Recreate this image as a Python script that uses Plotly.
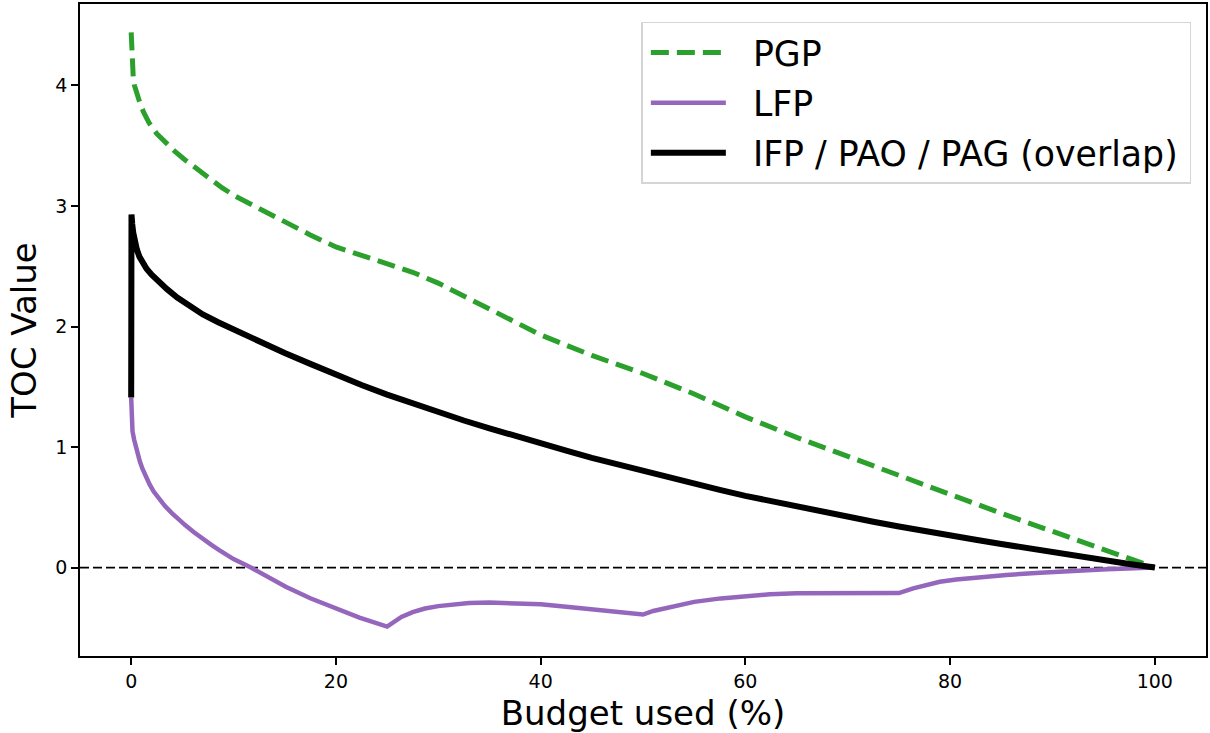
import plotly.graph_objects as go

# ---------------- data ----------------
pgp_x = [0, 0.02, 0.06, 0.12, 0.2, 0.32, 0.5, 0.8, 1.2, 1.75, 2.5, 3.4, 4.3, 5.3, 6.5, 7.6, 8.9,
         10.2, 12.5, 15, 17.5, 20, 22.5, 25, 27.5, 30, 35, 40, 45, 50, 55, 60, 65, 70,
         75, 80, 85, 90, 95, 100]
pgp_y = [4.44, 4.36, 4.25, 4.15, 4.07, 4.00, 3.94, 3.87, 3.78, 3.69, 3.60, 3.52, 3.45, 3.38, 3.30,
         3.23, 3.15, 3.08, 2.98, 2.86, 2.76, 2.66, 2.59, 2.53, 2.45, 2.36, 2.14, 1.93, 1.76, 1.61,
         1.44, 1.25, 1.08, 0.92, 0.76, 0.61, 0.45, 0.30, 0.15, 0.0]

lfp_x = [0, 0.02, 0.06, 0.13, 0.29, 0.45, 0.62, 0.85, 1.1, 1.4, 1.8, 2.2, 2.7, 3.3, 4.0, 4.6, 5.3,
         6.1, 7.0, 7.8, 8.6, 10, 11.7, 13.3, 15.1, 17.5, 19.9, 22.3, 25, 25.7, 26.4, 27.5, 28.7,
         30, 31.5, 33, 35, 37.5, 40, 42.5, 45, 47.5, 50, 51, 52.7, 55, 57.6, 60, 62.4, 65, 70, 75,
         76.4, 77.7, 79, 80.6, 82.3, 85.5, 88.8, 92, 95.3, 100]
lfp_y = [1.41, 1.28, 1.19, 1.13, 1.06, 1.00, 0.94, 0.88, 0.82, 0.76, 0.69, 0.63, 0.57, 0.51, 0.45,
         0.40, 0.35, 0.295, 0.235, 0.19, 0.145, 0.07, 0.0, -0.08, -0.16, -0.255, -0.34, -0.415,
         -0.49, -0.45, -0.41, -0.37, -0.34, -0.32, -0.305, -0.295, -0.29, -0.293, -0.305, -0.325,
         -0.345, -0.365, -0.39, -0.36, -0.325, -0.285, -0.256, -0.235, -0.222, -0.214, -0.212, -0.212,
         -0.173, -0.143, -0.118, -0.1, -0.085, -0.062, -0.043, -0.027, -0.015, 0.0]

ifp_x = [0, 0.03, 0.1, 0.2, 0.35, 0.55, 0.8, 1.1, 1.5, 2.0, 2.7, 3.5, 4.5, 5.5, 7, 8.5, 10,
         12.5, 15, 17.5, 20, 22.5, 25, 27.5, 30, 32.5, 35, 37.5, 40, 42.5, 45, 47.5, 50, 52.5,
         55, 57.5, 60, 62.5, 65, 67.5, 70, 72.5, 75, 77.5, 80, 82.5, 85, 87.5, 90, 92.5, 95,
         97.5, 100]
ifp_y = [1.41, 2.93, 2.85, 2.78, 2.71, 2.64, 2.58, 2.53, 2.48, 2.43, 2.37, 2.31, 2.24, 2.18, 2.10,
         2.035, 1.975, 1.875, 1.78, 1.69, 1.60, 1.515, 1.435, 1.36, 1.29, 1.22, 1.155, 1.09, 1.03,
         0.97, 0.91, 0.855, 0.80, 0.745, 0.695, 0.645, 0.595, 0.55, 0.505, 0.46, 0.42, 0.38, 0.34,
         0.30, 0.265, 0.23, 0.195, 0.16, 0.13, 0.095, 0.065, 0.03, 0.0]

names = ["PGP", "LFP", "IFP / PAO / PAG (overlap)"]
x_ticks = [0, 20, 40, 60, 80, 100]
y_ticks = [0, 1, 2, 3, 4]

FONT = "DejaVu Sans"
PAD_L = "\u00a0\u00a0"  # gap between legend sample and label, as in the reference
PAD_R = "\u2009"        # a little room before the legend's right border

fig = go.Figure()
fig.add_trace(go.Scatter(x=pgp_x, y=pgp_y, mode="lines", name=PAD_L + names[0] + PAD_R,
                         legendgroup="a",
                         line=dict(color="#2ca02c", width=5, dash="18px,8px")))
fig.add_trace(go.Scatter(x=lfp_x, y=lfp_y, mode="lines", name=PAD_L + names[1] + PAD_R,
                         legendgroup="b",
                         line=dict(color="#9467bd", width=4.5)))
fig.add_trace(go.Scatter(x=ifp_x, y=ifp_y, mode="lines", name=PAD_L + names[2] + PAD_R,
                         legendgroup="c",
                         line=dict(color="#000000", width=6)))

fig.add_shape(type="line", xref="paper", x0=0, x1=1, yref="y", y0=0, y1=0,
              line=dict(color="black", width=1.8, dash="9px,4px"), layer="below")

axis_common = dict(showline=True, mirror=True, linecolor="black", linewidth=1.8,
                   ticks="outside", ticklen=7, tickwidth=1.6, tickcolor="black",
                   showgrid=False, zeroline=False,
                   tickfont=dict(family=FONT, size=19, color="black"))

fig.update_layout(
    width=1210, height=733,
    margin=dict(l=80, r=2, t=4, b=77),
    plot_bgcolor="white", paper_bgcolor="white",
    xaxis=dict(range=[-5, 105], tickvals=x_ticks,
               title=dict(text="Budget used (%)", font=dict(family=FONT, size=34, color="black"),
                          standoff=10),
               **axis_common),
    yaxis=dict(range=[-0.734, 4.676], tickvals=y_ticks,
               title=dict(text="TOC Value", font=dict(family=FONT, size=34, color="black"),
                          standoff=8),
               **axis_common),
    legend=dict(x=0.987, y=0.9724, xanchor="right", yanchor="top",
                font=dict(family=FONT, size=34.7, color="black"),
                bgcolor="rgba(255,255,255,0.8)", bordercolor="#d5d5d5", borderwidth=1.5,
                itemwidth=75, tracegroupgap=2, traceorder="grouped", indentation=3),
    showlegend=True,
)

fig.write_html("out.html")
